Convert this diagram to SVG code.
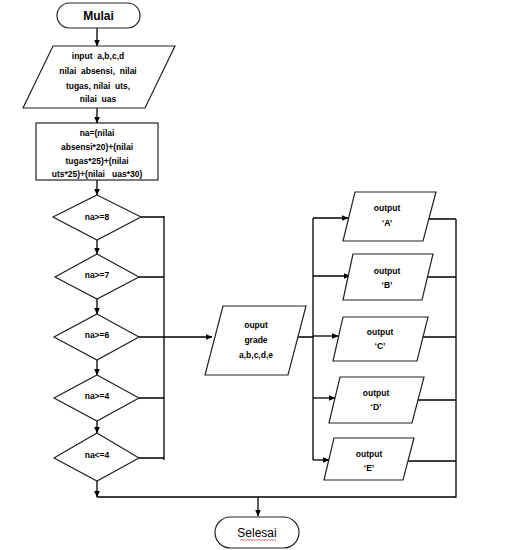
<svg xmlns="http://www.w3.org/2000/svg" width="508" height="550" viewBox="0 0 508 550">
<style>
.s{fill:#fff;stroke:#222;stroke-width:1.2}
.c{fill:none;stroke:#000;stroke-width:1.3}
.t{font-family:"Liberation Sans",Arial,sans-serif;font-size:8.5px;font-weight:bold;fill:#000;text-anchor:middle;white-space:pre}
.big{font-family:"Liberation Sans",Arial,sans-serif;font-size:12px;fill:#000;text-anchor:middle}
</style>
<defs>
<marker id="ah" markerWidth="7" markerHeight="6" refX="6.5" refY="3" orient="auto" markerUnits="userSpaceOnUse">
<path d="M0,0 L7,3 L0,6 Z" fill="#000"/>
</marker>
</defs>
<rect width="508" height="550" fill="#fff"/>
<g id="connectors">
<path class="c" d="M97,28 V46" marker-end="url(#ah)"/>
<path class="c" d="M97,108 V123" marker-end="url(#ah)"/>
<path class="c" d="M97,180 V195" marker-end="url(#ah)"/>
<path class="c" d="M97,240 V254" marker-end="url(#ah)"/>
<path class="c" d="M97,299 V314" marker-end="url(#ah)"/>
<path class="c" d="M97,360 V375" marker-end="url(#ah)"/>
<path class="c" d="M97,421 V433" marker-end="url(#ah)"/>
<path class="c" d="M97,481 V497" marker-end="url(#ah)"/>
<path class="c" d="M141,217 H164 M139,277 H164 M139,337 H164 M139,398 H164 M139,458 H164 M164,216 V460"/>
<path class="c" d="M164,337 H212" marker-end="url(#ah)"/>
<path class="c" d="M298,337 H313 M313,218 V460"/>
<path class="c" d="M313,218 H348" marker-end="url(#ah)"/>
<path class="c" d="M313,276 H350" marker-end="url(#ah)"/>
<path class="c" d="M313,336 H338" marker-end="url(#ah)"/>
<path class="c" d="M313,398 H335" marker-end="url(#ah)"/>
<path class="c" d="M313,460 H329" marker-end="url(#ah)"/>
<path class="c" d="M429,219 H456 M428,277 H456 M422,337 H456 M417,400 H456 M408,461 H456 M456,219 V497 H97"/>
<path class="c" d="M258,497 V516" marker-end="url(#ah)"/>
</g>
<g id="mulai">
<rect class="s" x="57" y="3" width="83" height="25" rx="12.5"/>
<text class="big" x="98.5" y="20" font-weight="bold">Mulai</text>
</g>
<g id="input">
<polygon class="s" points="53,46 175,46 145,108 23,108"/>
<text class="t" x="98" y="59">input  a,b,c,d</text>
<text class="t" x="98" y="74">nilai  absensi,  nilai</text>
<text class="t" x="98" y="89">tugas, nilai  uts,</text>
<text class="t" x="98" y="102">nilai  uas</text>
</g>
<g id="hitung">
<rect class="s" x="36" y="123" width="122" height="57"/>
<text class="t" x="97" y="136">na=(nilai</text>
<text class="t" x="97" y="150">absensi*20)+(nilai</text>
<text class="t" x="97" y="164">tugas*25)+(nilai</text>
<text class="t" x="97" y="177">uts*25)+(nilai   uas*30)</text>
</g>
<g id="d8">
<polygon class="s" points="97,195 141,217 97,240 53,217"/>
<text class="t" x="97" y="220">na&gt;=8</text>
</g>
<g id="d7">
<polygon class="s" points="97,254 139,277 97,299 55,277"/>
<text class="t" x="97" y="278">na&gt;=7</text>
</g>
<g id="d6">
<polygon class="s" points="97,314 139,337 97,360 54,337"/>
<text class="t" x="97" y="338">na&gt;=6</text>
</g>
<g id="d4">
<polygon class="s" points="97,375 139,398 97,421 54,398"/>
<text class="t" x="97" y="399">na&gt;=4</text>
</g>
<g id="dl4">
<polygon class="s" points="97,433 139,458 97,481 54,458"/>
<text class="t" x="97" y="458">na&lt;=4</text>
</g>
<g id="grade">
<polygon class="s" points="223,306 306,306 288,375 205,375"/>
<text class="t" x="256" y="328">ouput</text>
<text class="t" x="256" y="343">grade</text>
<text class="t" x="256" y="358">a,b,c,d,e</text>
</g>
<g id="outA">
<polygon class="s" points="355,192 436,192 423,241 343,241"/>
<text class="t" x="387" y="211">output</text>
<text class="t" x="387" y="226">‘A’</text>
</g>
<g id="outB">
<polygon class="s" points="353,254 433,254 422,300 343,300"/>
<text class="t" x="387" y="274">output</text>
<text class="t" x="387" y="288">‘B’</text>
</g>
<g id="outC">
<polygon class="s" points="343,317 428,317 417,361 333,361"/>
<text class="t" x="380" y="335">output</text>
<text class="t" x="380" y="349">‘C’</text>
</g>
<g id="outD">
<polygon class="s" points="340,377 424,377 412,423 329,423"/>
<text class="t" x="376" y="396">output</text>
<text class="t" x="376" y="410">‘D’</text>
</g>
<g id="outE">
<polygon class="s" points="334,438 414,438 403,480 324,480"/>
<text class="t" x="369" y="457">output</text>
<text class="t" x="369" y="471">‘E’</text>
</g>
<g id="selesai">
<rect class="s" x="215" y="517" width="84" height="31" rx="15.5"/>
<text class="big" x="257" y="537">Selesai</text>
<path d="M240,540.5 l1.5,-1 l1.5,1 l1.5,-1 l1.5,1 l1.5,-1 l1.5,1 l1.5,-1 l1.5,1 l1.5,-1 l1.5,1 l1.5,-1 l1.5,1 l1.5,-1 l1.5,1 l1.5,-1 l1.5,1 l1.5,-1 l1.5,1 l1.5,-1 l1.5,1 l1.5,-1 l1.5,1 l1.5,-1 l1.5,1" fill="none" stroke="#e03030" stroke-width="0.7"/>
</g>
</svg>
